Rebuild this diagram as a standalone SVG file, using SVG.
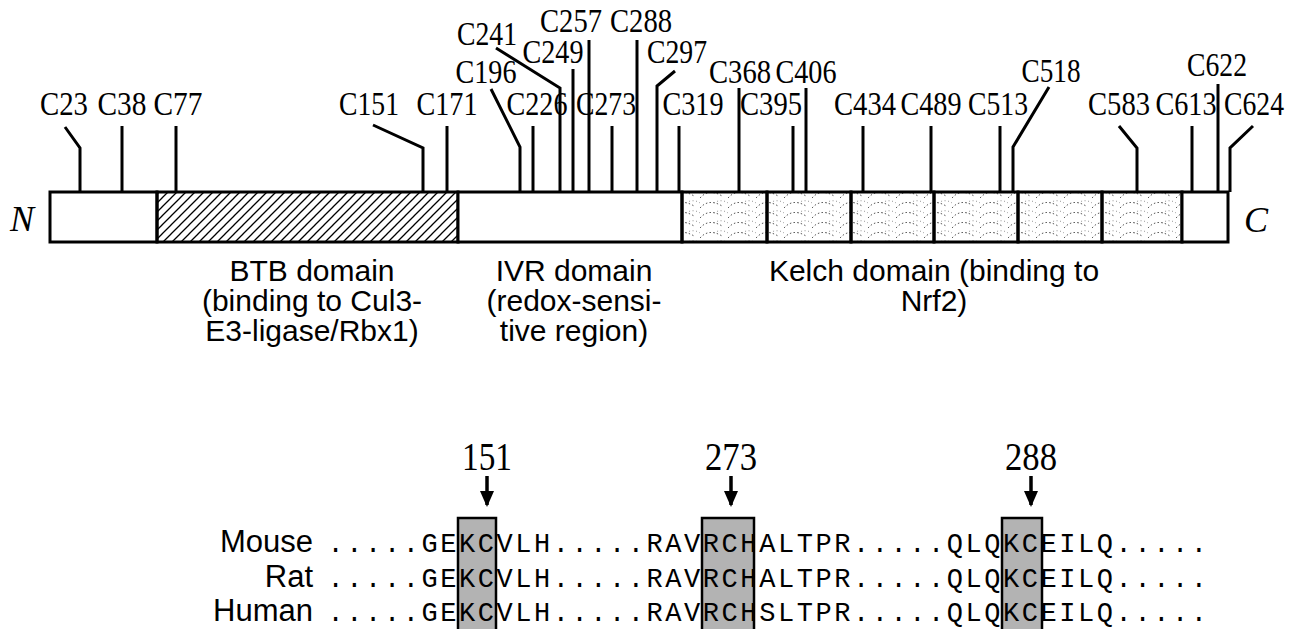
<svg xmlns="http://www.w3.org/2000/svg" width="1300" height="629" viewBox="0 0 1300 629">
<defs>
<style>
.cl{font-family:"Liberation Serif","Times New Roman",serif;font-size:34px;fill:#000;text-anchor:middle}
.num{font-family:"Liberation Serif","Times New Roman",serif;font-size:40px;fill:#000;text-anchor:middle}
.term{font-family:"Liberation Serif","Times New Roman",serif;font-size:36px;font-style:italic;fill:#000}
.dom{font-family:"Liberation Sans",Arial,sans-serif;font-size:30px;fill:#000;text-anchor:middle}
.sp{font-family:"Liberation Sans",Arial,sans-serif;font-size:31px;fill:#000;text-anchor:end}
.seq{font-family:"Liberation Mono","Courier New",monospace;font-size:27px;letter-spacing:2.56px;fill:#000}
.tick{fill:none;stroke:#000;stroke-width:3;stroke-linejoin:miter}
.seg{stroke:#000;stroke-width:3}
.box{fill:#b3b3b3;stroke:#000;stroke-width:2.5}
.arr{stroke:#000;stroke-width:3.5;fill:none}
</style>
<pattern id="hatch" patternUnits="userSpaceOnUse" width="9" height="9">
<path d="M-1,10 L10,-1 M-5,5 L5,-5 M4,14 L14,4" stroke="#000" stroke-width="1.3"/>
</pattern>
<pattern id="scale" patternUnits="userSpaceOnUse" width="28" height="10">
<path d="M0,8 C6,1 14,1 22,6" fill="none" stroke="#555" stroke-width="1" stroke-dasharray="1.5 2.2"/>
<path d="M14,3 C18,0 24,0 28,3" fill="none" stroke="#777" stroke-width="0.8" stroke-dasharray="1 2.5"/>
</pattern>
<marker id="ah" markerWidth="16" markerHeight="16" refX="14" refY="8" orient="auto" markerUnits="userSpaceOnUse">
<path d="M0,1 L16,8 L0,15 Z" fill="#000"/>
</marker>
</defs>
<rect width="1300" height="629" fill="#fff"/>

<g id="protein">
<rect x="50" y="192" width="107" height="50" fill="#fff" class="seg"/>
<rect x="157" y="192" width="301" height="50" fill="url(#hatch)" class="seg"/>
<rect x="458" y="192" width="224" height="50" fill="#fff" class="seg"/>
<rect x="682" y="192" width="85" height="50" fill="url(#scale)" class="seg"/>
<rect x="767" y="192" width="84" height="50" fill="url(#scale)" class="seg"/>
<rect x="851" y="192" width="83" height="50" fill="url(#scale)" class="seg"/>
<rect x="934" y="192" width="84" height="50" fill="url(#scale)" class="seg"/>
<rect x="1018" y="192" width="84" height="50" fill="url(#scale)" class="seg"/>
<rect x="1102" y="192" width="80" height="50" fill="url(#scale)" class="seg"/>
<rect x="1182" y="192" width="46" height="50" fill="#fff" class="seg"/>
</g>
<g id="termini">
<text class="term" x="10" y="231">N</text>
<text class="term" x="1244" y="232">C</text>
</g>

<g id="connectors">
<polyline class="tick" points="65,127 80,148 80,192"/>
<polyline class="tick" points="122,126 122,192"/>
<polyline class="tick" points="176,126 176,192"/>
<polyline class="tick" points="373,125 423,148 423,192"/>
<polyline class="tick" points="447,126 447,192"/>
<polyline class="tick" points="491,89 520,147 520,192"/>
<polyline class="tick" points="533,126 533,192"/>
<polyline class="tick" points="496,48 560,88 560,192"/>
<polyline class="tick" points="573,69 573,192"/>
<polyline class="tick" points="589,40 589,192"/>
<polyline class="tick" points="612,126 612,192"/>
<polyline class="tick" points="637,40 637,192"/>
<polyline class="tick" points="675,71 657,86 657,192"/>
<polyline class="tick" points="679,126 679,192"/>
<polyline class="tick" points="739,88 739,192"/>
<polyline class="tick" points="793,126 793,192"/>
<polyline class="tick" points="806,88 806,192"/>
<polyline class="tick" points="863,126 863,192"/>
<polyline class="tick" points="931,126 931,192"/>
<polyline class="tick" points="1000,126 1000,192"/>
<polyline class="tick" points="1049,87 1013,147 1013,192"/>
<polyline class="tick" points="1119,126 1137,148 1137,192"/>
<polyline class="tick" points="1192,126 1192,192"/>
<polyline class="tick" points="1218,84 1218,192"/>
<polyline class="tick" points="1253,126 1230,148 1230,192"/>
<line class="arr" x1="487" y1="476" x2="487" y2="505" marker-end="url(#ah)"/>
<line class="arr" x1="731" y1="476" x2="731" y2="505" marker-end="url(#ah)"/>
<line class="arr" x1="1031" y1="476" x2="1031" y2="505" marker-end="url(#ah)"/>
</g>

<g id="cys-labels">
<text id="C23" class="cl" x="64" y="115" textLength="48" lengthAdjust="spacingAndGlyphs">C23</text>
<text id="C38" class="cl" x="122" y="115" textLength="49" lengthAdjust="spacingAndGlyphs">C38</text>
<text id="C77" class="cl" x="178" y="115" textLength="49" lengthAdjust="spacingAndGlyphs">C77</text>
<text id="C151" class="cl" x="369" y="115" textLength="60" lengthAdjust="spacingAndGlyphs">C151</text>
<text id="C171" class="cl" x="447" y="115" textLength="61" lengthAdjust="spacingAndGlyphs">C171</text>
<text id="C196" class="cl" x="486" y="83" textLength="61" lengthAdjust="spacingAndGlyphs">C196</text>
<text id="C226" class="cl" x="537" y="115" textLength="61" lengthAdjust="spacingAndGlyphs">C226</text>
<text id="C241" class="cl" x="487" y="45" textLength="60" lengthAdjust="spacingAndGlyphs">C241</text>
<text id="C249" class="cl" x="553" y="63" textLength="61" lengthAdjust="spacingAndGlyphs">C249</text>
<text id="C257" class="cl" x="571" y="32" textLength="62" lengthAdjust="spacingAndGlyphs">C257</text>
<text id="C273" class="cl" x="606" y="115" textLength="60" lengthAdjust="spacingAndGlyphs">C273</text>
<text id="C288" class="cl" x="641" y="32" textLength="62" lengthAdjust="spacingAndGlyphs">C288</text>
<text id="C297" class="cl" x="677" y="63" textLength="60" lengthAdjust="spacingAndGlyphs">C297</text>
<text id="C319" class="cl" x="693" y="115" textLength="61" lengthAdjust="spacingAndGlyphs">C319</text>
<text id="C368" class="cl" x="740" y="83" textLength="62" lengthAdjust="spacingAndGlyphs">C368</text>
<text id="C395" class="cl" x="771" y="115" textLength="62" lengthAdjust="spacingAndGlyphs">C395</text>
<text id="C406" class="cl" x="806" y="83" textLength="61" lengthAdjust="spacingAndGlyphs">C406</text>
<text id="C434" class="cl" x="865" y="115" textLength="62" lengthAdjust="spacingAndGlyphs">C434</text>
<text id="C489" class="cl" x="931" y="115" textLength="61" lengthAdjust="spacingAndGlyphs">C489</text>
<text id="C513" class="cl" x="998" y="115" textLength="60" lengthAdjust="spacingAndGlyphs">C513</text>
<text id="C518" class="cl" x="1051" y="82" textLength="59" lengthAdjust="spacingAndGlyphs">C518</text>
<text id="C583" class="cl" x="1119" y="115" textLength="62" lengthAdjust="spacingAndGlyphs">C583</text>
<text id="C613" class="cl" x="1186" y="115" textLength="61" lengthAdjust="spacingAndGlyphs">C613</text>
<text id="C622" class="cl" x="1217" y="76" textLength="60" lengthAdjust="spacingAndGlyphs">C622</text>
<text id="C624" class="cl" x="1254" y="115" textLength="60" lengthAdjust="spacingAndGlyphs">C624</text>
</g>

<g id="domain-BTB">
<text class="dom" x="312" y="281">BTB domain</text>
<text class="dom" x="312" y="311">(binding to Cul3-</text>
<text class="dom" x="312" y="341">E3-ligase/Rbx1)</text>
</g>
<g id="domain-IVR">
<text class="dom" x="574" y="281">IVR domain</text>
<text class="dom" x="574" y="311">(redox-sensi-</text>
<text class="dom" x="574" y="341">tive region)</text>
</g>
<g id="domain-Kelch">
<text class="dom" x="934" y="281">Kelch domain (binding to</text>
<text class="dom" x="934" y="311">Nrf2)</text>
</g>

<g id="highlight-boxes">
<rect class="box" x="458" y="518" width="38" height="115"/>
<rect class="box" x="702" y="518" width="52" height="115"/>
<rect class="box" x="1002" y="518" width="40" height="115"/>
</g>
<g id="positions">
<text class="num" x="487" y="470" textLength="50" lengthAdjust="spacingAndGlyphs">151</text>
<text class="num" x="731" y="470" textLength="52" lengthAdjust="spacingAndGlyphs">273</text>
<text class="num" x="1031" y="470" textLength="52" lengthAdjust="spacingAndGlyphs">288</text>
</g>
<g id="alignment">
<text class="sp" x="313" y="552">Mouse</text>
<text class="sp" x="313" y="587">Rat</text>
<text class="sp" x="313" y="621">Human</text>
<text class="seq" x="327.6" y="552">.....GEKCVLH.....RAVRCHALTPR.....QLQKCEILQ.....</text>
<text class="seq" x="327.6" y="587">.....GEKCVLH.....RAVRCHALTPR.....QLQKCEILQ.....</text>
<text class="seq" x="327.6" y="621">.....GEKCVLH.....RAVRCHSLTPR.....QLQKCEILQ.....</text>
</g>
</svg>
